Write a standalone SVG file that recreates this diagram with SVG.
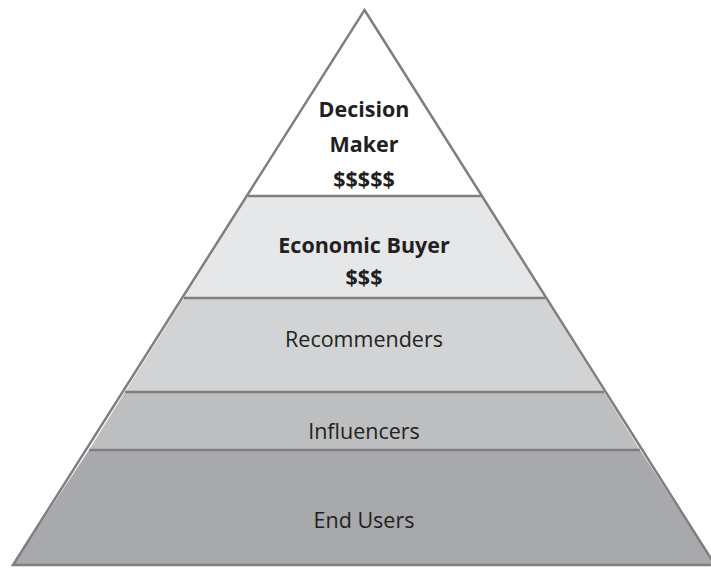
<svg xmlns="http://www.w3.org/2000/svg" width="711" height="568" viewBox="0 0 711 568">
<style>
.t{font-family:"Open Sans","Liberation Sans",sans-serif;font-size:21.5px;fill:#231f20;text-anchor:middle}
.b{font-weight:bold}
.e{stroke:#7f7f7f;stroke-width:2.5;stroke-linejoin:miter}
</style>
<rect width="711" height="568" fill="#ffffff"/>
<g id="layer-end-users">
<polygon points="89,450 640,450 715,565 13,565" fill="#a7a9ac"/>
<text class="t" x="364" y="528">End Users</text>
</g>
<g id="layer-influencers">
<polygon points="125,392 604,392 640,450 89,450" fill="#bcbec0"/>
<text class="t" x="364" y="439">Influencers</text>
</g>
<g id="layer-recommenders">
<polygon points="184,298 545,298 604,392 125,392" fill="#d1d3d4"/>
<text class="t" x="364" y="347">Recommenders</text>
</g>
<g id="layer-economic-buyer">
<polygon points="248,196 481,196 545,298 184,298" fill="#e6e7e8"/>
<text class="t b" x="364" y="253">Economic Buyer</text>
<text class="t b" x="364" y="285">$$$</text>
</g>
<g id="layer-decision-maker">
<polygon points="364.5,10 481,196 248,196" fill="#ffffff"/>
<text class="t b" x="364" y="117">Decision</text>
<text class="t b" x="364" y="152">Maker</text>
<text class="t b" x="364" y="187">$$$$$</text>
</g>
<g id="connectors" class="e" fill="none">
<polygon points="364.5,10 715,565 13,565"/>
<line x1="248" y1="196" x2="481" y2="196"/>
<line x1="184" y1="298" x2="545" y2="298"/>
<line x1="125" y1="392" x2="604" y2="392"/>
<line x1="89" y1="450" x2="640" y2="450"/>
</g>
</svg>
